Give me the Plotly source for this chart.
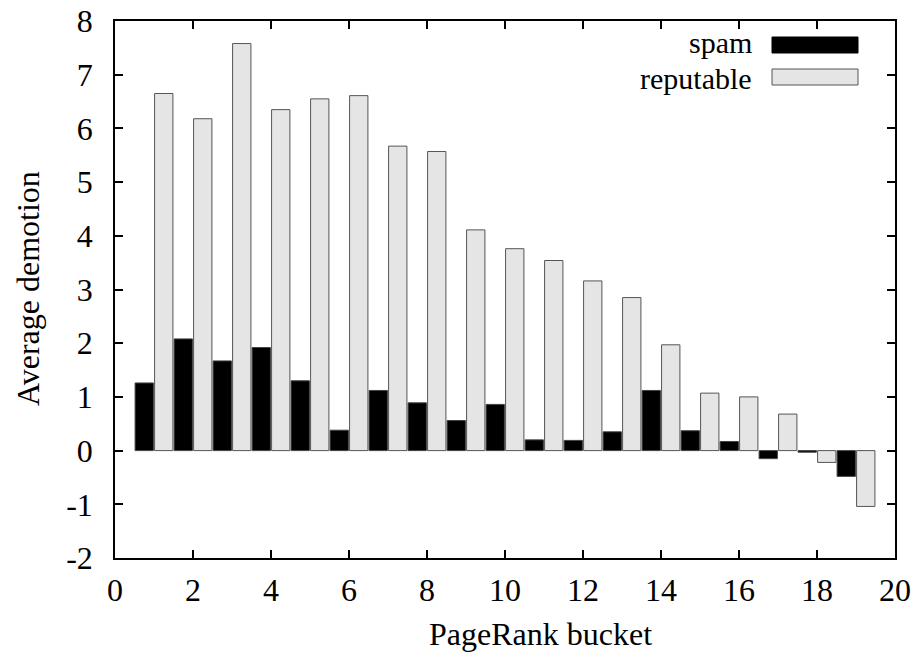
import plotly.graph_objects as go

buckets = list(range(1, 20))
spam = [1.26, 2.08, 1.67, 1.92, 1.30, 0.38, 1.12, 0.89, 0.56, 0.86,
        0.20, 0.19, 0.35, 1.12, 0.37, 0.17, -0.15, -0.03, -0.48]
reputable = [6.65, 6.18, 7.58, 6.35, 6.55, 6.61, 5.67, 5.57, 4.11, 3.76,
             3.54, 3.16, 2.85, 1.97, 1.07, 1.00, 0.68, -0.22, -1.04]
x_ticks = list(range(0, 21, 2))
y_ticks = list(range(-2, 9))
y_tick_text = [str(v) for v in y_ticks]  # plain hyphen minus, like the original

FONT = "Liberation Serif"
FS = 32
LFS = 30

fig = go.Figure()
fig.add_trace(go.Bar(x=buckets, y=spam, name="spam", marker=dict(color="black", line=dict(color="#444444", width=1))))
fig.add_trace(go.Bar(x=buckets, y=reputable, name="reputable", marker=dict(color="#e5e5e5", line=dict(color="#555555", width=1))))

axis_common = dict(showline=True, linecolor="black", linewidth=1.5, mirror="ticks",
                   ticks="inside", ticklen=8, tickwidth=1.5, tickcolor="black",
                   showgrid=False, zeroline=False, automargin=False,
                   tickfont=dict(family=FONT, size=FS, color="black"))

fig.update_layout(
    width=918, height=654,
    margin=dict(l=115, r=23, t=21, b=96),
    paper_bgcolor="white", plot_bgcolor="white",
    barmode="group", bargap=0, bargroupgap=0.06,
    showlegend=False,
    xaxis=dict(range=[0, 20], tickvals=x_ticks, ticklabelstandoff=3, **axis_common),
    yaxis=dict(range=[-2, 8], tickvals=y_ticks, ticktext=y_tick_text, ticklabelstandoff=14, **axis_common),
)

W, H = 918, 654
l, r, t, b = 115, 23, 21, 96
pw, ph = W - l - r, H - t - b

def px(x):
    return (x - l) / pw

def py(y):
    return 1 - (y - t) / ph

# axis titles
fig.add_annotation(xref="paper", yref="paper", x=px(540), y=py(634), text="PageRank bucket",
                   showarrow=False, xanchor="center", yanchor="middle",
                   font=dict(family=FONT, size=FS, color="black"))
fig.add_annotation(xref="paper", yref="paper", x=px(28), y=py(289), text="Average demotion",
                   showarrow=False, xanchor="center", yanchor="middle", textangle=-90,
                   font=dict(family=FONT, size=FS, color="black"))

# legend drawn manually (text to the left of the swatch, like the original)
legend_items = [("spam", "black", "#000000", 45, 43), ("reputable", "#e5e5e5", "#555555", 77, 78)]
for name, fill, line, yc, ytext in legend_items:
    fig.add_shape(type="rect", xref="paper", yref="paper",
                  x0=px(772), x1=px(858), y0=py(yc - 8), y1=py(yc + 8),
                  fillcolor=fill, line=dict(color=line, width=1))
    fig.add_annotation(xref="paper", yref="paper", x=px(753), y=py(ytext), text=name,
                       showarrow=False, xanchor="right", yanchor="middle", borderpad=0,
                       font=dict(family=FONT, size=LFS, color="black"))

fig.write_html("out.html")
